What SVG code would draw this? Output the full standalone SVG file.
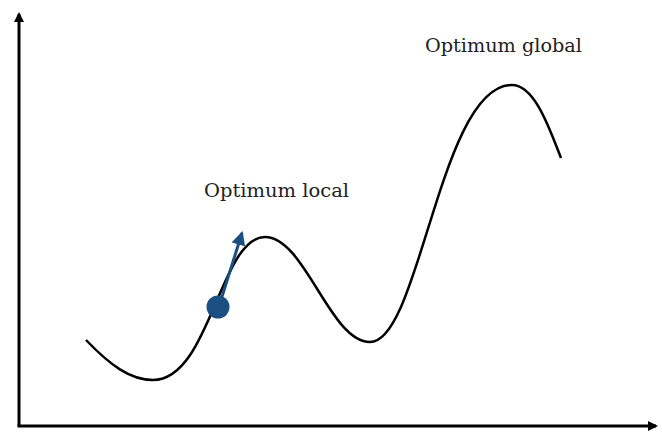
<svg xmlns="http://www.w3.org/2000/svg" width="662" height="432" viewBox="0 0 662 432">
<defs>
<style>
.axis{stroke:#000;stroke-width:3;fill:none}
.curve{stroke:#000;stroke-width:2.5;fill:none}
.lbl{font-family:"DejaVu Serif","Liberation Serif",serif;font-size:18.5px;fill:#222}
</style>
<marker id="ah" markerWidth="10" markerHeight="10" refX="8" refY="5" orient="auto" markerUnits="userSpaceOnUse"><path d="M0,0 L10,5 L0,10 z" fill="#000"/></marker>
<marker id="bh" markerWidth="14" markerHeight="14" refX="12" refY="7" orient="auto" markerUnits="userSpaceOnUse"><path d="M0,0 L14,7 L0,14 z" fill="#1b4f82"/></marker>
</defs>
<g id="connectors">
<path class="axis" d="M19,426 L19,14" marker-end="url(#ah)"/>
<path class="axis" d="M17.5,426 L656,426" marker-end="url(#ah)"/>
<path class="curve" d="M86,340 C110,365 130,380 153,380 C210,380 220,237 265,237 C305,237 330,342 370,342 C420,342 440,85 512,85 C535,85 550,130 561,158"/>
<path d="M220,303 L242,233" stroke="#1b4f82" stroke-width="3" fill="none" marker-end="url(#bh)"/>
</g>
<g id="point"><circle cx="218" cy="307" r="11.5" fill="#1b4f82"/></g>
<g id="local"><text class="lbl" x="204" y="197" textLength="145" lengthAdjust="spacingAndGlyphs">Optimum local</text></g>
<g id="global"><text class="lbl" x="425" y="52" textLength="157" lengthAdjust="spacingAndGlyphs">Optimum global</text></g>
</svg>
